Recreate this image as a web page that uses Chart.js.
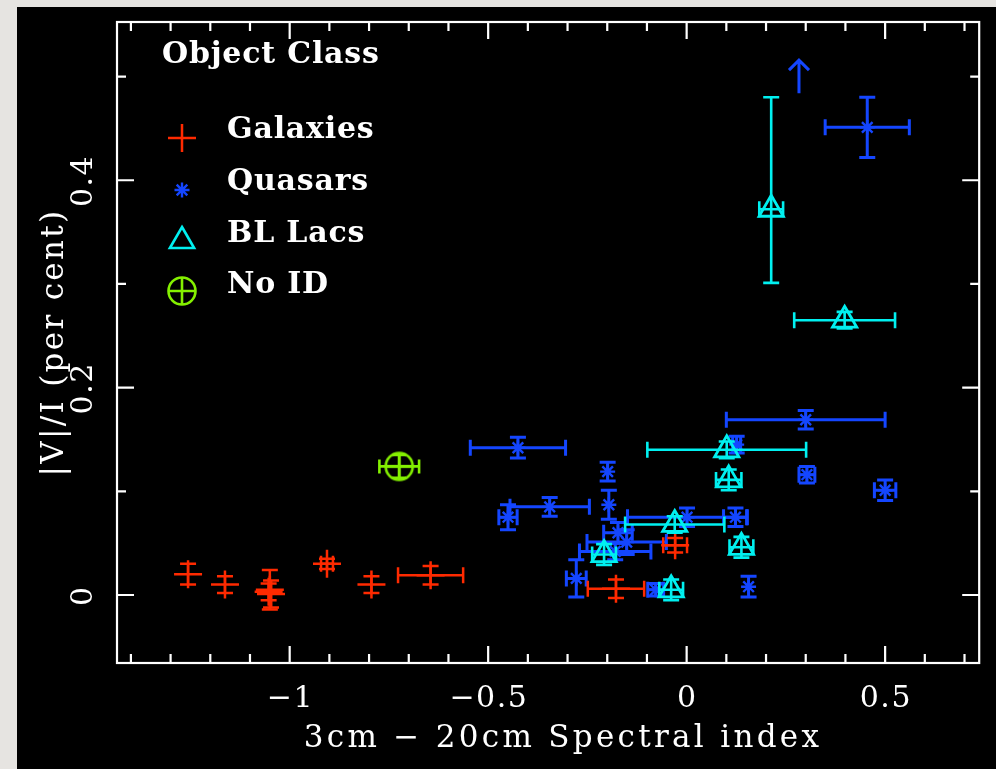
<!DOCTYPE html>
<html><head><meta charset="utf-8">
<script src="https://cdn.jsdelivr.net/npm/chart.js@4.4.0/dist/chart.umd.min.js"></script>
<style>html,body{margin:0;padding:0;background:#e6e4e1;overflow:hidden}canvas{display:block}</style>
</head><body><canvas id="c" width="996" height="769"></canvas>
<script>
// ---------------- data ----------------
const galaxyX    = [-1.256, -1.163, -1.050, -1.047, -1.053, -0.906, -0.794, -0.645, -0.178, -0.029];
const galaxyY    = [ 0.020,  0.010,  0.005,  0.001,  0.003,  0.030,  0.010,  0.019,  0.006,  0.048];
const galaxyXErr = [ 0,      0,      0,      0,      0,      0.015,  0,      0.082,  0.071,  0.030];
const galaxyYErr = [ 0.010,  0.008,  0.019,  0.013,  0.008,  0.005,  0.008,  0.009,  0.009,  0.007];

const quasarX    = [0.455, 0.300, 0.303, 0.500, 0.126, 0.156, 0.123, 0.001, -0.425, -0.199, -0.196, -0.345, -0.450, -0.173, -0.151, -0.180, -0.278, -0.078];
const quasarY    = [0.451, 0.169, 0.116, 0.101, 0.145, 0.008, 0.075, 0.075,  0.142,  0.119,  0.087,  0.085,  0.075,  0.060,  0.051,  0.042,  0.016,  0.005];
const quasarXErr = [0.106, 0.200, 0.020, 0.027, 0.010, 0,     0.030, 0.150,  0.120,  0,      0,      0.100,  0.023,  0.036,  0.100,  0.090,  0.025,  0.020];
const quasarYErr = [0.029, 0.009, 0.008, 0.010, 0.008, 0.010, 0.009, 0.009,  0.010,  0.009,  0.014,  0.009,  0.012,  0.010,  0.012,  0.008,  0.018,  0.006];
const quasarLimitX = [0.283];
const quasarLimitY = [0.484];

const blLacX        = [0.213, 0.398, 0.101, 0.106, -0.030, 0.138, -0.208, -0.039];
const blLacY        = [0.372, 0.265, 0.140, 0.111,  0.068, 0.046,  0.039,  0.005];
const blLacXErr     = [0.030, 0.127, 0.200, 0.032,  0.125, 0.030,  0.030,  0.030];
const blLacYErrUp   = [0.108, 0.008, 0.008, 0.010,  0.008, 0.010,  0.010,  0.010];
const blLacYErrDown = [0.071, 0.008, 0.008, 0.010,  0.008, 0.010,  0.010,  0.010];

const noIdX    = [-0.724];
const noIdY    = [0.124];
const noIdXErr = [0.050];
const noIdYErr = [0.011];

const xTickValues = [-1, -0.5, 0, 0.5];
const xTickLabels = ['\u22121', '\u22120.5', '0', '0.5'];
const xMinorTicks = [-1.4,-1.3,-1.2,-1.1,-1.0,-0.9,-0.8,-0.7,-0.6,-0.5,-0.4,-0.3,-0.2,-0.1,0,0.1,0.2,0.3,0.4,0.5,0.6,0.7];
const yTickValues = [0, 0.2, 0.4];
const yTickLabels = ['0', '0.2', '0.4'];
const yMinorTicks = [0, 0.1, 0.2, 0.3, 0.4, 0.5];

const legendLabels = ['Galaxies', 'Quasars', 'BL Lacs', 'No ID'];
const legendTitle = 'Object Class';
const xTitle = '3cm \u2212 20cm Spectral index';
const yTitle = '|V|/I (per cent)';

// ---------------- styles ----------------
const RED = '#ff2a00', BLUE = '#1446ff', CYAN = '#00f0f0', GREEN = '#84f000';
const SERIF = '"DejaVu Serif", "Liberation Serif", serif';

function noIdMarker() {
  const cv = document.createElement('canvas');
  cv.width = 32; cv.height = 32;
  const g = cv.getContext('2d');
  g.strokeStyle = GREEN; g.lineWidth = 2.6;
  g.beginPath(); g.arc(16, 16, 13.5, 0, Math.PI * 2); g.stroke();
  g.beginPath(); g.moveTo(2.5, 16); g.lineTo(29.5, 16); g.moveTo(16, 2.5); g.lineTo(16, 29.5); g.stroke();
  return cv;
}
const noIdImg = noIdMarker();

function pts(xs, ys) { return xs.map((x, i) => ({ x: x, y: ys[i] })); }

const errorPlugin = {
  id: 'errbars',
  beforeDraw(chart) {
    const c = chart.ctx;
    c.save();
    c.fillStyle = '#e6e4e1'; c.fillRect(0, 0, chart.width, chart.height);
    c.fillStyle = '#000'; c.fillRect(17, 7, chart.width - 17, chart.height - 7);
    c.restore();
  },
  beforeDatasetDraw(chart, args) {
    const ds = chart.data.datasets[args.index];
    const e = ds.errors; if (!e) return;
    const xs = chart.scales.x, ys = chart.scales.y, c = chart.ctx;
    const cap = e.cap;
    c.save();
    c.strokeStyle = ds.borderColor; c.lineWidth = e.width; c.lineCap = 'butt';
    for (let i = 0; i < e.x.length; i++) {
      const px = xs.getPixelForValue(e.x[i]), py = ys.getPixelForValue(e.y[i]);
      c.beginPath();
      if (e.xe[i] > 0) {
        const l = xs.getPixelForValue(e.x[i] - e.xe[i]), r = xs.getPixelForValue(e.x[i] + e.xe[i]);
        c.moveTo(l, py); c.lineTo(r, py);
        c.moveTo(l, py - cap); c.lineTo(l, py + cap);
        c.moveTo(r, py - cap); c.lineTo(r, py + cap);
      }
      const up = e.yeUp[i], dn = e.yeDown[i];
      if (up > 0 || dn > 0) {
        const t = ys.getPixelForValue(e.y[i] + up), b = ys.getPixelForValue(e.y[i] - dn);
        c.moveTo(px, t); c.lineTo(px, b);
        c.moveTo(px - cap, t); c.lineTo(px + cap, t);
        c.moveTo(px - cap, b); c.lineTo(px + cap, b);
      }
      c.stroke();
    }
    c.restore();
  },
  afterDatasetsDraw(chart) {
    const c = chart.ctx, a = chart.chartArea, xs = chart.scales.x, ys = chart.scales.y;
    c.save();
    // lower-limit arrow
    c.strokeStyle = BLUE; c.lineWidth = 3;
    for (let i = 0; i < quasarLimitX.length; i++) {
      const px = xs.getPixelForValue(quasarLimitX[i]), py = ys.getPixelForValue(quasarLimitY[i]);
      const tip = py - 33;
      c.beginPath();
      c.moveTo(px, py); c.lineTo(px, tip);
      c.moveTo(px - 10, tip + 10); c.lineTo(px, tip); c.lineTo(px + 10, tip + 10);
      c.stroke();
    }
    // frame
    c.strokeStyle = '#fff'; c.lineWidth = 2.2;
    c.strokeRect(a.left, a.top, a.right - a.left, a.bottom - a.top);
    c.beginPath();
    xMinorTicks.forEach(v => {
      const px = xs.getPixelForValue(v);
      const major = Math.abs(v * 2 - Math.round(v * 2)) < 1e-6;
      const len = major ? 17 : 9;
      c.moveTo(px, a.bottom); c.lineTo(px, a.bottom - len);
      c.moveTo(px, a.top); c.lineTo(px, a.top + len);
    });
    yMinorTicks.forEach(v => {
      const py = ys.getPixelForValue(v);
      const major = Math.abs(v * 5 - Math.round(v * 5)) < 1e-6;
      const len = major ? 17 : 9;
      c.moveTo(a.left, py); c.lineTo(a.left + len, py);
      c.moveTo(a.right, py); c.lineTo(a.right - len, py);
    });
    c.stroke();
    // tick labels
    c.fillStyle = '#fff';
    c.font = '30px ' + SERIF;
    c.textAlign = 'center'; c.textBaseline = 'alphabetic';
    c.letterSpacing = '1.5px';
    xTickValues.forEach((v, i) => c.fillText(xTickLabels[i], xs.getPixelForValue(v) + 0.75, 707));
    yTickValues.forEach((v, i) => {
      c.save(); c.translate(92, ys.getPixelForValue(v) + 0.75); c.rotate(-Math.PI / 2);
      c.fillText(yTickLabels[i], 0, 0); c.restore();
    });
    // axis titles
    c.font = '31px ' + SERIF;
    c.letterSpacing = '3.3px';
    c.fillText(xTitle, 563, 747);
    c.save(); c.translate(63, (a.top + a.bottom) / 2); c.rotate(-Math.PI / 2);
    c.letterSpacing = '2.3px';
    c.fillText(yTitle, 0, 0); c.restore();
    c.letterSpacing = '0.8px';
    // legend
    c.textAlign = 'left';
    c.font = 'bold 30px ' + SERIF;
    c.fillText(legendTitle, 162, 63);
    const ly = [138, 190, 241, 291], lb = [138, 190, 242, 293];
    const styles = [
      { pointStyle: 'cross', radius: 14, borderWidth: 2.5, color: RED },
      { pointStyle: 'star', radius: 7.5, borderWidth: 2.4, color: BLUE },
      { pointStyle: 'triangle', radius: 14, borderWidth: 2.6, color: CYAN },
      { pointStyle: noIdImg, radius: 14, borderWidth: 2.6, color: GREEN }
    ];
    styles.forEach((s, i) => {
      c.save();
      c.strokeStyle = s.color; c.fillStyle = 'rgba(0,0,0,0)'; c.lineWidth = s.borderWidth;
      Chart.helpers.drawPoint(c, { pointStyle: s.pointStyle, radius: s.radius, borderWidth: s.borderWidth, rotation: 0 }, 182, ly[i]);
      c.restore();
      c.fillStyle = '#fff';
      c.fillText(legendLabels[i], 227, lb[i]);
    });
    c.restore();
  }
};

new Chart(document.getElementById('c'), {
  type: 'scatter',
  data: {
    datasets: [
      { label: 'No ID', data: pts(noIdX, noIdY), pointStyle: noIdImg, pointRadius: 14, borderColor: GREEN, backgroundColor: 'rgba(0,0,0,0)', borderWidth: 2.6,
        errors: { x: noIdX, y: noIdY, xe: noIdXErr, yeUp: noIdYErr, yeDown: noIdYErr, width: 2.6, cap: 7 } },
      { label: 'BL Lacs', data: pts(blLacX, blLacY), pointStyle: 'triangle', pointRadius: 14, borderColor: CYAN, backgroundColor: 'rgba(0,0,0,0)', borderWidth: 2.8,
        errors: { x: blLacX, y: blLacY, xe: blLacXErr, yeUp: blLacYErrUp, yeDown: blLacYErrDown, width: 2.6, cap: 8 } },
      { label: 'Galaxies', data: pts(galaxyX, galaxyY), pointStyle: 'cross', pointRadius: 14, borderColor: RED, backgroundColor: RED, borderWidth: 2.5,
        errors: { x: galaxyX, y: galaxyY, xe: galaxyXErr, yeUp: galaxyYErr, yeDown: galaxyYErr, width: 2.5, cap: 8 } },
      { label: 'Quasars', data: pts(quasarX, quasarY), pointStyle: 'star', pointRadius: 7.5, borderColor: BLUE, backgroundColor: BLUE, borderWidth: 2.4,
        errors: { x: quasarX, y: quasarY, xe: quasarXErr, yeUp: quasarYErr, yeDown: quasarYErr, width: 3, cap: 8 } }
    ]
  },
  options: {
    responsive: false,
    devicePixelRatio: 1,
    animation: false,
    layout: { padding: { left: 117, top: 22, right: 8, bottom: 106 } },
    plugins: { legend: { display: false }, tooltip: { enabled: false } },
    elements: { point: { hoverRadius: 14 } },
    scales: {
      x: { type: 'linear', min: -1.435, max: 0.737, display: false },
      y: { type: 'linear', min: -0.0656, max: 0.5526, display: false }
    }
  },
  plugins: [errorPlugin]
});
</script>
</body></html>
